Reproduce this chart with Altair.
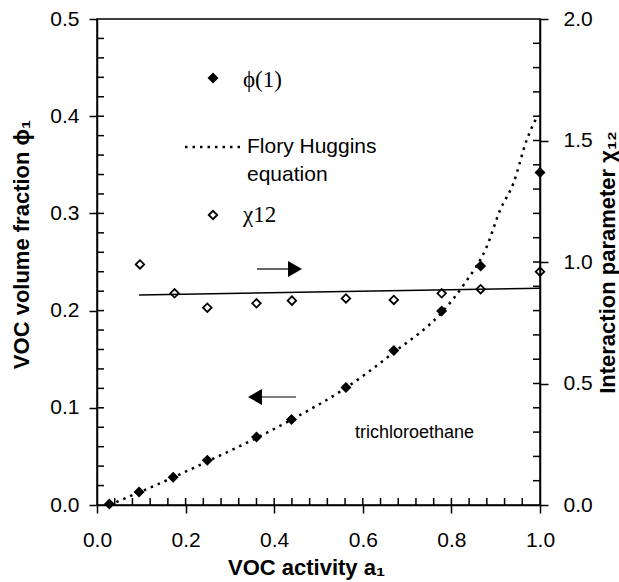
import altair as alt
import pandas as pd

# Volume fraction of trichloroethane vs. its activity
activity = [0.028, 0.095, 0.172, 0.249, 0.360, 0.439, 0.562, 0.670, 0.778, 0.866, 1.000]
phi1 = [0.001, 0.0134, 0.0285, 0.046, 0.070, 0.088, 0.121, 0.159, 0.1996, 0.246, 0.342]

# Interaction parameter chi12 vs. activity
chi_activity = [0.097, 0.175, 0.249, 0.360, 0.440, 0.562, 0.670, 0.778, 0.866, 1.000]
chi12 = [0.99, 0.871, 0.812, 0.830, 0.841, 0.850, 0.844, 0.871, 0.888, 0.96]

# Flory-Huggins equation curve
fh_activity = [0.028, 0.10, 0.17, 0.25, 0.36, 0.44, 0.56, 0.67, 0.78, 0.83, 0.88, 0.91, 0.94, 0.97, 0.995]
fh_phi = [0.0, 0.014, 0.028, 0.045, 0.069, 0.088, 0.12, 0.157, 0.199, 0.228, 0.266, 0.3035, 0.331, 0.3755, 0.401]

# Mean chi12 line
chi_line_activity = [0.095, 1.0]
chi_line_value = [0.864, 0.892]

# Axis tick values
x_major = [0.0, 0.2, 0.4, 0.6, 0.8, 1.0]
x_all_ticks = [0.04, 0.08, 0.12, 0.16, 0.2, 0.24, 0.28, 0.32, 0.36, 0.4, 0.44, 0.48,
               0.52, 0.56, 0.6, 0.64, 0.68, 0.72, 0.76, 0.8, 0.84, 0.88, 0.92, 0.96]
left_major = [0.0, 0.1, 0.2, 0.3, 0.4, 0.5]
left_all_ticks = [0.02, 0.04, 0.06, 0.08, 0.1, 0.12, 0.14, 0.16, 0.18, 0.2, 0.22, 0.24,
                  0.26, 0.28, 0.3, 0.32, 0.34, 0.36, 0.38, 0.4, 0.42, 0.44, 0.46, 0.48]
right_major = [0.0, 0.5, 1.0, 1.5, 2.0]
right_all_ticks = [0.1, 0.2, 0.3, 0.4, 0.5, 0.6, 0.7, 0.8, 0.9, 1.0,
                   1.1, 1.2, 1.3, 1.4, 1.5, 1.6, 1.7, 1.8, 1.9]

W, H = 443, 486
SANS = "Liberation Sans"
SERIF = "Liberation Serif"
INNER = 7

x_scale = alt.Scale(domain=[0, 1], nice=False, zero=False)
left_scale = alt.Scale(domain=[0, 0.5], nice=False)
right_scale = alt.Scale(domain=[0, 2.0], nice=False)

common_axis = dict(
    tickSize=8, tickColor="black", tickWidth=1.5,
    domainColor="black", domainWidth=1.5,
    labelFont=SANS, labelFontSize=21, labelColor="black", labelFlush=False,
    grid=False, titleFont=SANS, titleFontSize=22, titleFontWeight="bold",
    titleColor="black", titleAlign="center", titleBaseline="middle",
)

x_axis = alt.Axis(values=x_major, format=".1f", labelPadding=16,
                  title="VOC activity a₁", titleX=209, titleY=62, **common_axis)
left_axis = alt.Axis(values=left_major, format=".1f", labelPadding=10,
                     title="VOC volume fraction ϕ₁", titleX=-76, titleY=225,
                     titleAngle=270, **common_axis)
right_axis = alt.Axis(values=right_major, format=".1f", labelPadding=15, orient="right",
                      title="Interaction parameter χ₁₂", titleX=67, titleY=243,
                      titleAngle=270, **common_axis)

phi_df = pd.DataFrame({"a": activity, "phi": phi1})
fh_df = pd.DataFrame({"a": fh_activity, "phi": fh_phi})
chi_df = pd.DataFrame({"a": chi_activity, "chi": chi12})
chi_line_df = pd.DataFrame({"a": chi_line_activity, "chi": chi_line_value})

fh_curve = alt.Chart(fh_df).mark_line(
    color="black", strokeWidth=2.5, strokeDash=[2.5, 5], interpolate="monotone"
).encode(
    x=alt.X("a:Q", scale=x_scale, axis=x_axis),
    y=alt.Y("phi:Q", scale=left_scale, axis=left_axis),
)

phi_points = alt.Chart(phi_df).mark_point(
    shape="diamond", filled=True, color="black", size=121, opacity=1
).encode(
    x=alt.X("a:Q", scale=x_scale),
    y=alt.Y("phi:Q", scale=left_scale),
)

# inward tick marks on the bottom and left axes
x_ticks_in = alt.Chart(pd.DataFrame({"t": x_all_ticks})).mark_rule(
    color="black", strokeWidth=1.5
).encode(
    x=alt.X("t:Q", scale=x_scale),
    y=alt.value(H), y2=alt.value(H - INNER),
)
left_ticks_in = alt.Chart(pd.DataFrame({"t": left_all_ticks})).mark_rule(
    color="black", strokeWidth=1.5
).encode(
    y=alt.Y("t:Q", scale=left_scale),
    x=alt.value(0), x2=alt.value(INNER),
)

# legend entries
legend_text = pd.DataFrame({"label": ["ϕ(1)"]})
leg_phi_sym = alt.Chart(legend_text).mark_point(
    shape="diamond", filled=True, color="black", size=121, opacity=1
).encode(x=alt.value(116), y=alt.value(59))
leg_phi_txt = alt.Chart(legend_text).mark_text(
    font=SERIF, fontSize=23, align="left", baseline="middle", color="black"
).encode(x=alt.value(146), y=alt.value(61), text="label:N")

leg_fh_line = alt.Chart(pd.DataFrame({"k": [0]})).mark_rule(
    color="black", strokeWidth=2.5, strokeDash=[2.5, 5]
).encode(x=alt.value(88), x2=alt.value(145), y=alt.value(128))
leg_fh_txt = alt.Chart(pd.DataFrame({"label": ["Flory Huggins", "equation"],
                                     "row": [128, 156]})).mark_text(
    font=SANS, fontSize=21, align="left", baseline="middle", color="black"
).encode(x=alt.value(150), y=alt.Y("row:Q", scale=None), text="label:N")

leg_chi_sym = alt.Chart(pd.DataFrame({"label": ["χ12"]})).mark_point(
    shape="diamond", filled=False, color="black", size=72, strokeWidth=1.8, opacity=1
).encode(x=alt.value(116), y=alt.value(196))
leg_chi_txt = alt.Chart(pd.DataFrame({"label": ["χ12"]})).mark_text(
    font=SERIF, fontSize=23, align="left", baseline="middle", color="black"
).encode(x=alt.value(146), y=alt.value(196), text="label:N")

solvent_txt = alt.Chart(pd.DataFrame({"label": ["trichloroethane"]})).mark_text(
    font=SANS, fontSize=18, align="left", baseline="middle", color="black"
).encode(x=alt.value(258), y=alt.value(414), text="label:N")

# arrows pointing to the axis each series belongs to
right_shaft = alt.Chart(pd.DataFrame({"k": [0]})).mark_rule(
    color="black", strokeWidth=1.2
).encode(x=alt.value(160), x2=alt.value(192), y=alt.value(250))
right_head = alt.Chart(pd.DataFrame({"k": [0]})).mark_point(
    shape="triangle-right", filled=True, color="black", size=260, opacity=1
).encode(x=alt.value(198), y=alt.value(250))
left_shaft = alt.Chart(pd.DataFrame({"k": [0]})).mark_rule(
    color="black", strokeWidth=1.2
).encode(x=alt.value(164), x2=alt.value(199), y=alt.value(378))
left_head = alt.Chart(pd.DataFrame({"k": [0]})).mark_point(
    shape="triangle-left", filled=True, color="black", size=260, opacity=1
).encode(x=alt.value(158), y=alt.value(378))

left_group = alt.layer(
    fh_curve, phi_points, x_ticks_in, left_ticks_in,
    leg_phi_sym, leg_phi_txt, leg_fh_line, leg_fh_txt, leg_chi_sym, leg_chi_txt,
    solvent_txt, right_shaft, right_head, left_shaft, left_head,
)

chi_line = alt.Chart(chi_line_df).mark_line(color="black", strokeWidth=1.5).encode(
    x=alt.X("a:Q", scale=x_scale),
    y=alt.Y("chi:Q", scale=right_scale, axis=right_axis),
)
chi_points = alt.Chart(chi_df).mark_point(
    shape="diamond", filled=False, color="black", size=72, strokeWidth=1.8, opacity=1
).encode(
    x=alt.X("a:Q", scale=x_scale),
    y=alt.Y("chi:Q", scale=right_scale),
)
right_ticks_in = alt.Chart(pd.DataFrame({"t": right_all_ticks})).mark_rule(
    color="black", strokeWidth=1.5
).encode(
    y=alt.Y("t:Q", scale=right_scale),
    x=alt.value(W), x2=alt.value(W - INNER),
)

right_group = alt.layer(chi_line, chi_points, right_ticks_in)

chart = alt.layer(left_group, right_group).resolve_scale(
    y="independent"
).properties(
    width=W, height=H,
    autosize=alt.AutoSizeParams(type="none"),
    padding={"left": 97, "top": 19, "right": 79, "bottom": 77},
    background="white",
).configure_view(stroke="black", strokeWidth=1.5)

chart.save("out.html", embed_options={"renderer": "svg", "actions": False})
